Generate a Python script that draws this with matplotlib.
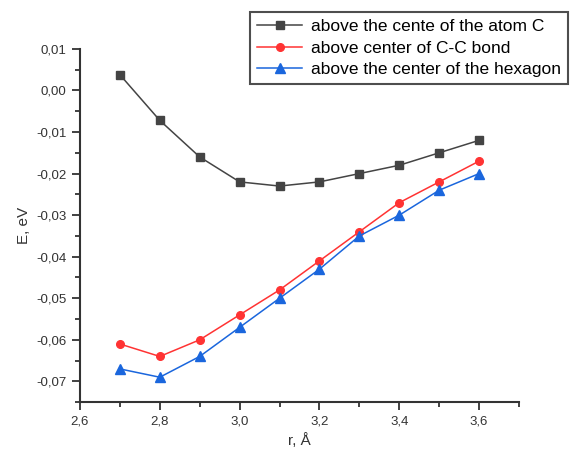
import matplotlib
matplotlib.use('Agg')
import matplotlib.pyplot as plt
from matplotlib.ticker import MultipleLocator, FuncFormatter

plt.rcParams['font.family'] = ['Liberation Sans', 'DejaVu Sans']

# distance r, A
r = [2.7, 2.8, 2.9, 3.0, 3.1, 3.2, 3.3, 3.4, 3.5, 3.6]
# energies, eV
e_atom = [0.0038, -0.0072, -0.016, -0.022, -0.023, -0.022, -0.020, -0.018, -0.015, -0.012]
e_bond = [-0.061, -0.064, -0.060, -0.054, -0.048, -0.041, -0.034, -0.027, -0.022, -0.017]
e_hex = [-0.067, -0.069, -0.064, -0.057, -0.050, -0.043, -0.035, -0.030, -0.024, -0.020]

labels = ['above the cente of the atom C',
          'above center of C-C bond',
          'above the center of the hexagon']

fig = plt.figure(figsize=(5.71, 4.57), dpi=100)
ax = fig.add_axes([0.140, 0.120, 0.769, 0.773])

ax.plot(r, e_atom, color='#444444', marker='s', ms=5.5, lw=1.1, label=labels[0])
ax.plot(r, e_bond, color='#ff3333', marker='o', ms=5.5, lw=1.1, label=labels[1])
ax.plot(r, e_hex, color='#1a66dd', marker='^', ms=6.5, lw=1.1, label=labels[2])

ax.set_xlim(2.6, 3.7)
ax.set_ylim(-0.075, 0.01)
ax.xaxis.set_major_locator(MultipleLocator(0.2))
ax.xaxis.set_minor_locator(MultipleLocator(0.1))
ax.yaxis.set_major_locator(MultipleLocator(0.01))
ax.yaxis.set_minor_locator(MultipleLocator(0.005))
ax.xaxis.set_major_formatter(FuncFormatter(lambda v, p: ('%.1f' % v).replace('.', ',')))
ax.yaxis.set_major_formatter(FuncFormatter(lambda v, p: ('%.2f' % v).replace('.', ',')))

for s in ['top', 'right']:
    ax.spines[s].set_visible(False)
for s in ['left', 'bottom']:
    ax.spines[s].set_linewidth(1.5)
    ax.spines[s].set_color('#333333')
ax.tick_params(which='major', length=6, width=1.3, colors='#333333', labelsize=9.5)
ax.tick_params(which='minor', length=3.5, width=1.3, colors='#333333')

ax.set_xlabel('r, Å', fontsize=11, color='#333333')
ax.set_ylabel('E, eV', fontsize=11, color='#333333')

leg = fig.legend(loc='upper left', bbox_to_anchor=(0.438, 0.974), bbox_transform=fig.transFigure,
                 fontsize=12.5, frameon=True, fancybox=False, borderpad=0.4,
                 labelspacing=0.38, handlelength=2.6, handletextpad=0.5, borderaxespad=0)
leg.get_frame().set_edgecolor('#222222')
leg.get_frame().set_linewidth(1.5)

fig.savefig('out.png', dpi=100)
